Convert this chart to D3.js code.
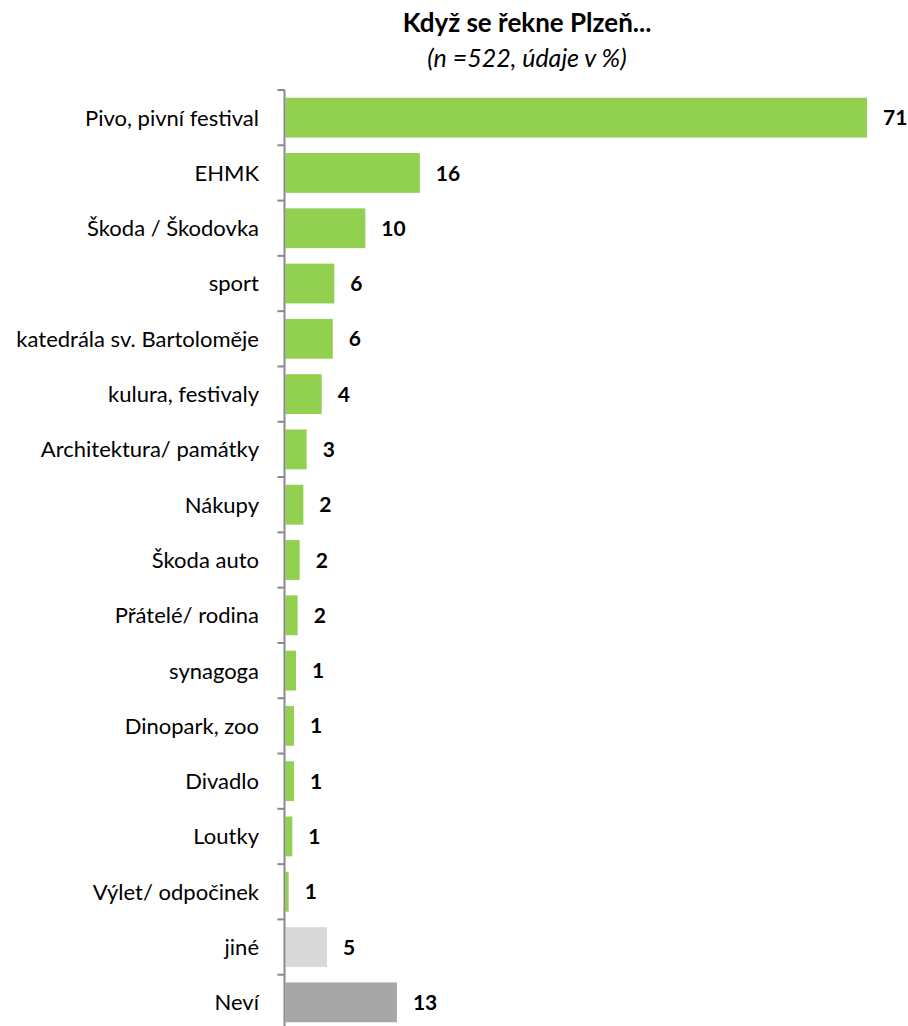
<!DOCTYPE html>
<html lang="cs">
<head>
    <meta charset="UTF-8">
    <title>Když se řekne Plzeň</title>
    <script src="https://d3js.org/d3.v7.min.js"></script>
    <style>
        body{margin: 0; background: #fff;}
        text{font-family: Lato, "Open Sans", sans-serif; fill: #000;}
    </style>
</head>
<body>
    <div id="plot"></div>

    <script>
        let categories = ['Pivo, pivní festival', 'EHMK', 'Škoda / Škodovka', 'sport',
            'katedrála sv. Bartoloměje', 'kulura, festivaly', 'Architektura/ památky', 'Nákupy',
            'Škoda auto', 'Přátelé/ rodina', 'synagoga', 'Dinopark, zoo', 'Divadlo', 'Loutky',
            'Výlet/ odpočinek', 'jiné', 'Neví'];
        // bar lengths
        let values = [71, 16.5, 9.85, 6.07, 5.88, 4.54, 2.7, 2.3, 1.85, 1.6, 1.4, 1.16, 1.16, 0.95, 0.51, 5.18, 13.7];
        // value labels as printed
        let labels = ['71', '16', '10', '6', '6', '4', '3', '2', '2', '2', '1', '1', '1', '1', '1', '5', '13'];
        let groups = ['main', 'main', 'main', 'main', 'main', 'main', 'main', 'main', 'main', 'main',
            'main', 'main', 'main', 'main', 'main', 'other', 'dk'];

        let data = categories.map((c, i) => ({cat: c, value: values[i], label: labels[i], group: groups[i]}));

        let svgWidth = 908, svgHeight = 1026;
        let x0 = 284.5;

        let svg = d3.select('#plot').append('svg')
            .attr('width', svgWidth)
            .attr('height', svgHeight);

        let x = d3.scaleLinear().domain([0, 71]).range([x0, 867]);
        let y = d3.scaleBand().domain(categories).range([90, 1030])
            .paddingInner(0.28).paddingOuter(0.14);

        let color = d3.scaleOrdinal()
            .domain(['main', 'other', 'dk'])
            .range(['#92d050', '#d9d9d9', '#a6a6a6']);

        // title
        svg.append('text')
            .attr('x', 527).attr('y', 32)
            .attr('text-anchor', 'middle')
            .style('font-weight', 'bold')
            .style('font-size', '26px')
            .text('Když se řekne Plzeň...');
        svg.append('text')
            .attr('x', 527).attr('y', 67)
            .attr('text-anchor', 'middle')
            .style('font-style', 'italic')
            .style('font-size', '25px')
            .text('(n =522, údaje v %)');

        svg.selectAll('rect.bar')
            .data(data)
            .join('rect')
            .attr('class', 'bar')
            .attr('x', x(0) + 1)
            .attr('y', d => y(d.cat))
            .attr('width', d => x(d.value) - x(0) - 1)
            .attr('height', y.bandwidth())
            .attr('fill', d => color(d.group));

        svg.selectAll('text.val')
            .data(data)
            .join('text')
            .attr('class', 'val')
            .attr('x', d => x(d.value) + 16)
            .attr('y', d => y(d.cat) + y.bandwidth() / 2)
            .attr('dy', '0.36em')
            .style('font-weight', 'bold')
            .style('font-size', '21px')
            .text(d => d.label);

        svg.selectAll('text.cat')
            .data(data)
            .join('text')
            .attr('class', 'cat')
            .attr('x', 259)
            .attr('y', d => y(d.cat) + y.bandwidth() / 2)
            .attr('dy', '0.36em')
            .attr('text-anchor', 'end')
            .style('font-size', '22px')
            .text(d => d.cat);

        // category axis with ticks between the bars
        let step = y.step();
        let edges = categories.map(c => y(c) - step * y.paddingInner() / 2);
        edges.push(edges[edges.length - 1] + step);

        let axis = svg.append('g').attr('stroke', '#898989').attr('stroke-width', 2);
        axis.append('line')
            .attr('x1', x0).attr('x2', x0)
            .attr('y1', edges[0]).attr('y2', edges[edges.length - 1]);
        axis.selectAll('line.tick')
            .data(edges)
            .join('line')
            .attr('class', 'tick')
            .attr('x1', x0 - 7).attr('x2', x0)
            .attr('y1', d => d).attr('y2', d => d);
    </script>
</body>
</html>
